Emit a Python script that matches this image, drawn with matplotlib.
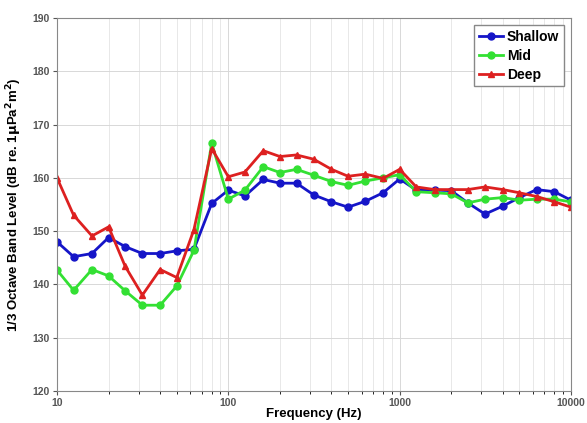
import numpy as np
import matplotlib
matplotlib.use('agg')
import matplotlib.pyplot as plt

# 1/3 octave band centre frequencies (Hz)
freq = [10, 12.5, 16, 20, 25, 31.5, 40, 50, 63, 80, 100, 125, 160, 200, 250,
        315, 400, 500, 630, 800, 1000, 1250, 1600, 2000, 2500, 3150, 4000,
        5000, 6300, 8000, 10000]

shallow = [148.0, 145.2, 145.8, 148.8, 147.1, 145.8, 145.8, 146.3, 146.6, 155.2,
           157.7, 156.6, 159.7, 159.0, 159.0, 156.8, 155.5, 154.5, 155.6, 157.2,
           159.8, 157.7, 157.7, 157.6, 155.3, 153.2, 154.7, 156.3, 157.8, 157.4,
           155.8]
mid = [142.7, 138.9, 142.8, 141.6, 138.8, 136.1, 136.1, 139.7, 146.4, 166.5,
       156.0, 157.7, 162.1, 161.0, 161.6, 160.5, 159.3, 158.6, 159.4, 160.0,
       160.6, 157.4, 157.2, 157.0, 155.3, 156.0, 156.3, 155.8, 156.0, 156.0,
       155.5]
deep = [160.0, 153.0, 149.1, 150.8, 143.4, 138.0, 142.8, 141.3, 150.3, 165.5,
        160.2, 161.1, 165.1, 164.0, 164.3, 163.5, 161.6, 160.3, 160.7, 159.9,
        161.6, 158.3, 157.8, 157.8, 157.8, 158.3, 157.8, 157.2, 156.5, 155.5,
        154.5]

plt.rcParams['font.family'] = ['Liberation Sans', 'DejaVu Sans']

fig = plt.figure(figsize=(5.87, 4.23), dpi=100)
ax = fig.add_axes([57/587, 1 - 391/423, (571-57)/587, (391-18)/423])

ax.semilogx(freq, shallow, '-o', color='#1515c8', lw=2, ms=5, label='Shallow')
ax.semilogx(freq, mid, '-o', color='#33e033', lw=2, ms=5, label='Mid')
ax.semilogx(freq, deep, '-^', color='#dd2020', lw=2, ms=5, label='Deep')

ax.set_xlim(10, 10000)
ax.set_ylim(120, 190)
ax.set_yticks(np.arange(120, 191, 10))
ax.set_xticks([10, 100, 1000, 10000])
ax.set_xticklabels(['10', '100', '1000', '10000'])
ax.grid(True, which='major', color='#d8d8d8', lw=0.7)
ax.grid(True, which='minor', axis='x', color='#e4e4e4', lw=0.6)
ax.tick_params(labelsize=7.5, colors='#555555', length=3, pad=2)
for lab in ax.get_xticklabels() + ax.get_yticklabels():
    lab.set_fontweight('bold')
for s in ax.spines.values():
    s.set_color('#888888')

ax.set_xlabel('Frequency (Hz)', fontsize=9.5, fontweight='bold', labelpad=0)
ax.set_ylabel(r'1/3 Octave Band Level (dB re. 1$\mathbf{\mu}$Pa$^\mathbf{2}$m$^\mathbf{2}$)',
              fontsize=9.5, fontweight='bold', labelpad=6)

leg = ax.legend(loc='upper right', prop={'weight': 'bold', 'size': 10},
                fancybox=False, framealpha=1, edgecolor='#888888',
                handlelength=1.7, handletextpad=0.3, borderpad=0.35,
                labelspacing=0.35, borderaxespad=0.5)

fig.savefig('out.png', dpi=100)
